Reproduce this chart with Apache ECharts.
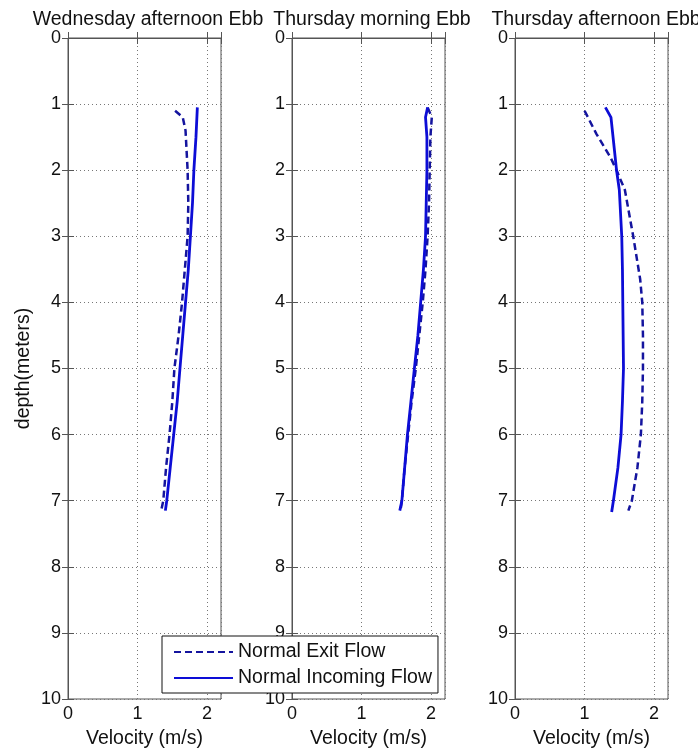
<!DOCTYPE html>
<html><head><meta charset="utf-8">
<script src="https://cdn.jsdelivr.net/npm/echarts@6/dist/echarts.min.js"></script>
<style>html,body{margin:0;padding:0;background:#fff}#c{width:698px;height:754px}</style>
</head><body><div id="c"></div>
<script>
const panelTitles = ['Wednesday afternoon Ebb', 'Thursday morning Ebb', 'Thursday afternoon Ebb'];
const seriesNames = ['Normal Exit Flow', 'Normal Incoming Flow'];
const xAxisName = 'Velocity (m/s)';
const yAxisName = 'depth(meters)';

const wedExitDepth = [1.1, 1.2, 1.4, 2, 2.5, 3, 3.5, 4, 4.5, 5, 5.5, 6, 6.5, 7, 7.15];
const wedExitVel   = [1.54, 1.65, 1.69, 1.72, 1.73, 1.72, 1.68, 1.64, 1.59, 1.53, 1.50, 1.46, 1.41, 1.37, 1.34];
const wedInDepth   = [1.05, 1.5, 2, 2.5, 3, 3.5, 4, 4.5, 5, 5.5, 6, 6.5, 7, 7.15];
const wedInVel     = [1.86, 1.84, 1.81, 1.79, 1.76, 1.73, 1.69, 1.65, 1.61, 1.57, 1.52, 1.47, 1.42, 1.40];

const thuMExitDepth = [1.05, 1.2, 1.5, 2, 2.5, 3, 3.5, 4, 4.5, 5, 5.5, 6, 6.5, 7, 7.15];
const thuMExitVel   = [1.95, 2.01, 1.99, 1.98, 1.97, 1.95, 1.92, 1.88, 1.83, 1.78, 1.72, 1.67, 1.62, 1.58, 1.56];
const thuMInDepth   = [1.05, 1.2, 1.5, 2, 2.5, 3, 3.5, 4, 4.5, 5, 5.5, 6, 6.5, 7, 7.15];
const thuMInVel     = [1.95, 1.92, 1.94, 1.94, 1.93, 1.92, 1.89, 1.85, 1.81, 1.76, 1.71, 1.66, 1.62, 1.58, 1.55];

const thuAExitDepth = [1.1, 1.45, 1.8, 2, 2.3, 3, 3.65, 4, 4.5, 5, 5.5, 6, 6.5, 7, 7.15];
const thuAExitVel   = [1.0, 1.17, 1.37, 1.46, 1.58, 1.70, 1.80, 1.83, 1.84, 1.84, 1.83, 1.81, 1.76, 1.68, 1.63];
const thuAInDepth   = [1.05, 1.2, 1.6, 2, 2.3, 3, 3.5, 4, 4.5, 5, 5.5, 6, 6.5, 7, 7.17];
const thuAInVel     = [1.30, 1.38, 1.42, 1.46, 1.50, 1.535, 1.545, 1.55, 1.555, 1.56, 1.545, 1.525, 1.48, 1.415, 1.39];

const panels = [
  {exit: [wedExitVel, wedExitDepth], inc: [wedInVel, wedInDepth]},
  {exit: [thuMExitVel, thuMExitDepth], inc: [thuMInVel, thuMInDepth]},
  {exit: [thuAExitVel, thuAExitDepth], inc: [thuAInVel, thuAInDepth]}
];

const FONT = 'Liberation Sans, Arial, sans-serif';
const FS_TICK = 18, FS_TITLE = 19.5, FS_NAME = 19.5, FS_LEG = 19.5;
const gridLefts = [68, 292, 515];
const titleCenters = [143, 367, 591];
const gridW = 153, gridTop = 38, gridH = 663;
const axisCol = '#555';
const exitCol = '#14149e', incCol = '#0d0dd6';
const zip = (a, b) => a.map((v, i) => [v, b[i]]);
const intFmt = v => (Math.abs(v - Math.round(v)) < 1e-9 ? String(Math.round(v)) : '');

const grid = [], xAxis = [], yAxis = [], series = [], title = [];
panels.forEach((p, i) => {
  grid.push({left: gridLefts[i], top: gridTop, width: gridW, height: gridH, show: true, borderColor: axisCol, borderWidth: 1, backgroundColor: '#fff'});
  title.push({text: panelTitles[i], left: titleCenters[i], top: 5, textAlign: 'center',
    textStyle: {fontFamily: FONT, fontSize: FS_TITLE, fontWeight: 'normal', color: '#111'}});
  xAxis.push({type: 'value', gridIndex: i, min: 0, max: 2.2, interval: 1, position: 'bottom',
    name: xAxisName, nameLocation: 'middle', nameGap: 30,
    nameTextStyle: {fontFamily: FONT, fontSize: FS_NAME, color: '#111'},
    axisLine: {show: true, lineStyle: {color: axisCol}},
    axisTick: {show: true, inside: true, length: 6, lineStyle: {color: axisCol}},
    axisLabel: {formatter: intFmt, fontFamily: FONT, fontSize: FS_TICK, color: '#111', margin: 6},
    splitLine: {show: true, lineStyle: {color: '#777', type: [1, 3], width: 1}}});
  xAxis.push({type: 'value', gridIndex: i, min: 0, max: 2.2, interval: 1, position: 'top',
    axisLine: {show: true, lineStyle: {color: axisCol}},
    axisTick: {show: true, inside: true, length: 6, lineStyle: {color: axisCol}},
    axisLabel: {show: false}, splitLine: {show: false}});
  yAxis.push({type: 'value', gridIndex: i, min: 0, max: 10, interval: 1, inverse: true, position: 'left',
    name: i === 0 ? yAxisName : '', nameLocation: 'middle', nameGap: 34, nameRotate: 90,
    nameTextStyle: {fontFamily: FONT, fontSize: FS_NAME, color: '#111'},
    axisLine: {show: true, lineStyle: {color: axisCol}},
    axisTick: {show: true, inside: true, length: 6, lineStyle: {color: axisCol}},
    axisLabel: {fontFamily: FONT, fontSize: FS_TICK, color: '#111', margin: 7},
    splitLine: {show: true, lineStyle: {color: '#777', type: [1, 3], width: 1}}});
  yAxis.push({type: 'value', gridIndex: i, min: 0, max: 10, interval: 1, inverse: true, position: 'right',
    axisLine: {show: true, lineStyle: {color: axisCol}},
    axisTick: {show: true, inside: true, length: 6, lineStyle: {color: axisCol}},
    axisLabel: {show: false}, splitLine: {show: false}});
  series.push({name: seriesNames[0], type: 'line', xAxisIndex: 2 * i, yAxisIndex: 2 * i,
    data: zip(p.exit[0], p.exit[1]), symbol: 'none', showSymbol: false, smooth: false, z: 3,
    lineStyle: {color: exitCol, width: 2.5, type: [7, 4]}, itemStyle: {color: exitCol}});
  series.push({name: seriesNames[1], type: 'line', xAxisIndex: 2 * i, yAxisIndex: 2 * i,
    data: zip(p.inc[0], p.inc[1]), symbol: 'none', showSymbol: false, smooth: false, z: 4,
    lineStyle: {color: incCol, width: 2.8, type: 'solid'}, itemStyle: {color: incCol}});
});

const chart = echarts.init(document.getElementById('c'), null, {renderer: 'canvas'});
chart.setOption({
  animation: false,
  backgroundColor: '#fff',
  title: title,
  grid: grid, xAxis: xAxis, yAxis: yAxis, series: series,
  legend: {
    data: seriesNames,
    orient: 'vertical', left: 162, top: 636,
    padding: [6, 6, 5, 11], itemGap: 6, itemWidth: 59, itemHeight: 14,
    itemStyle: {opacity: 0},
    backgroundColor: '#fff', borderColor: '#111', borderWidth: 1, borderRadius: 0,
    textStyle: {fontFamily: FONT, fontSize: FS_LEG, color: '#111'}, z: 20
  }
});
</script></body></html>
